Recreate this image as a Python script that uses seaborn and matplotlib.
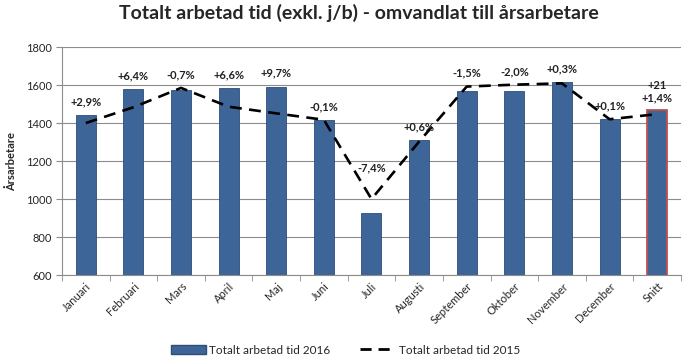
import matplotlib
matplotlib.use("Agg")
import matplotlib.pyplot as plt
import seaborn as sns
import pandas as pd
from matplotlib.lines import Line2D
from matplotlib.patches import Patch

months = ["Januari", "Februari", "Mars", "April", "Maj", "Juni", "Juli",
          "Augusti", "September", "Oktober", "November", "December", "Snitt"]
values_2016 = [1440, 1578, 1574, 1584, 1592, 1416, 926, 1310, 1568, 1570, 1614, 1421, 1468]
values_2015 = [1400, 1483, 1585, 1486, 1451, 1417, 1000, 1302, 1592, 1602, 1609, 1420, 1447]
change_labels = ["+2,9%", "+6,4%", "-0,7%", "+6,6%", "+9,7%", "-0,1%", "-7,4%",
                 "+0,6%", "-1,5%", "-2,0%", "+0,3%", "+0,1%", "+21\n+1,4%"]

df = pd.DataFrame({"month": months, "v2016": values_2016, "v2015": values_2015})

sns.set_style("white")
plt.rcParams["font.family"] = ["Lato", "DejaVu Sans"]

fig = plt.figure(figsize=(6.91, 3.62), dpi=100)
ax = fig.add_axes([0.0897, 0.2403, 0.8958, 0.6297])

bar_color = "#3D6598"
sns.barplot(data=df, x="month", y="v2016", color=bar_color, width=0.42,
            saturation=1, ax=ax, zorder=2)
for i, p in enumerate(ax.patches):
    if months[i] == "Snitt":
        p.set_edgecolor("#C0504D")
        p.set_linewidth(1.3)
    else:
        p.set_edgecolor("#2E4E78")
        p.set_linewidth(0.6)

sns.lineplot(data=df, x="month", y="v2015", sort=False, color="black",
             lw=1.9, ax=ax, zorder=3)
ax.lines[-1].set_dashes((4.5, 2.8))

n = len(months)
for i, lab in enumerate(change_labels):
    top = max(values_2016[i], values_2015[i])
    off = 70
    if "\n" in lab:
        off = 95
    # label sitting in a steep dip of the dashed line is lifted clear of it
    if 0 < i < n - 1 and values_2015[i] > values_2016[i] and \
            min(values_2015[i - 1], values_2015[i + 1]) - values_2015[i] > 200:
        off = 165
    ax.text(i, top + off, lab, ha="center", va="center", fontsize=8,
            fontweight="bold", color="#222222", zorder=4,
            linespacing=1.15)

ax.set_ylim(600, 1800)
ax.set_xlim(-0.5, n - 0.5)
ax.set_yticks(range(600, 1801, 200))
ax.yaxis.grid(True, color="#8C8C8C", lw=0.8)
ax.set_axisbelow(True)
for s in ["top", "right"]:
    ax.spines[s].set_visible(False)
for s in ["left", "bottom"]:
    ax.spines[s].set_color("#8C8C8C")
    ax.spines[s].set_linewidth(0.8)

ax.set_xticks([i + 0.5 for i in range(-1, n)], minor=True)
ax.tick_params(axis="x", which="minor", length=4, color="#8C8C8C", bottom=True)
ax.tick_params(axis="x", which="major", length=0, labelsize=8, pad=4)
ax.tick_params(axis="y", length=4, color="#8C8C8C", labelsize=8, left=True)
ax.set_xticks(range(n))
ax.set_xticklabels(months, rotation=45, ha="right", rotation_mode="anchor")
ax.set_xlabel("")
ax.set_ylabel("Årsarbetare", fontsize=8, fontweight="bold", labelpad=6)

fig.suptitle("Totalt arbetad tid (exkl. j/b) - omvandlat till årsarbetare",
             x=0.52, y=0.99, fontsize=14, fontweight="bold")

handles = [Patch(facecolor=bar_color, edgecolor="#2E4E78"),
           Line2D([0], [0], color="black", lw=2, dashes=(4, 2.5))]
fig.legend(handles, ["Totalt arbetad tid 2016", "Totalt arbetad tid 2015"],
           loc="center", bbox_to_anchor=(0.5, 0.033), ncol=2, frameon=False,
           fontsize=8.5, handlelength=3.0, columnspacing=2.5, handletextpad=0.3)

fig.savefig("out.png", dpi=100)
